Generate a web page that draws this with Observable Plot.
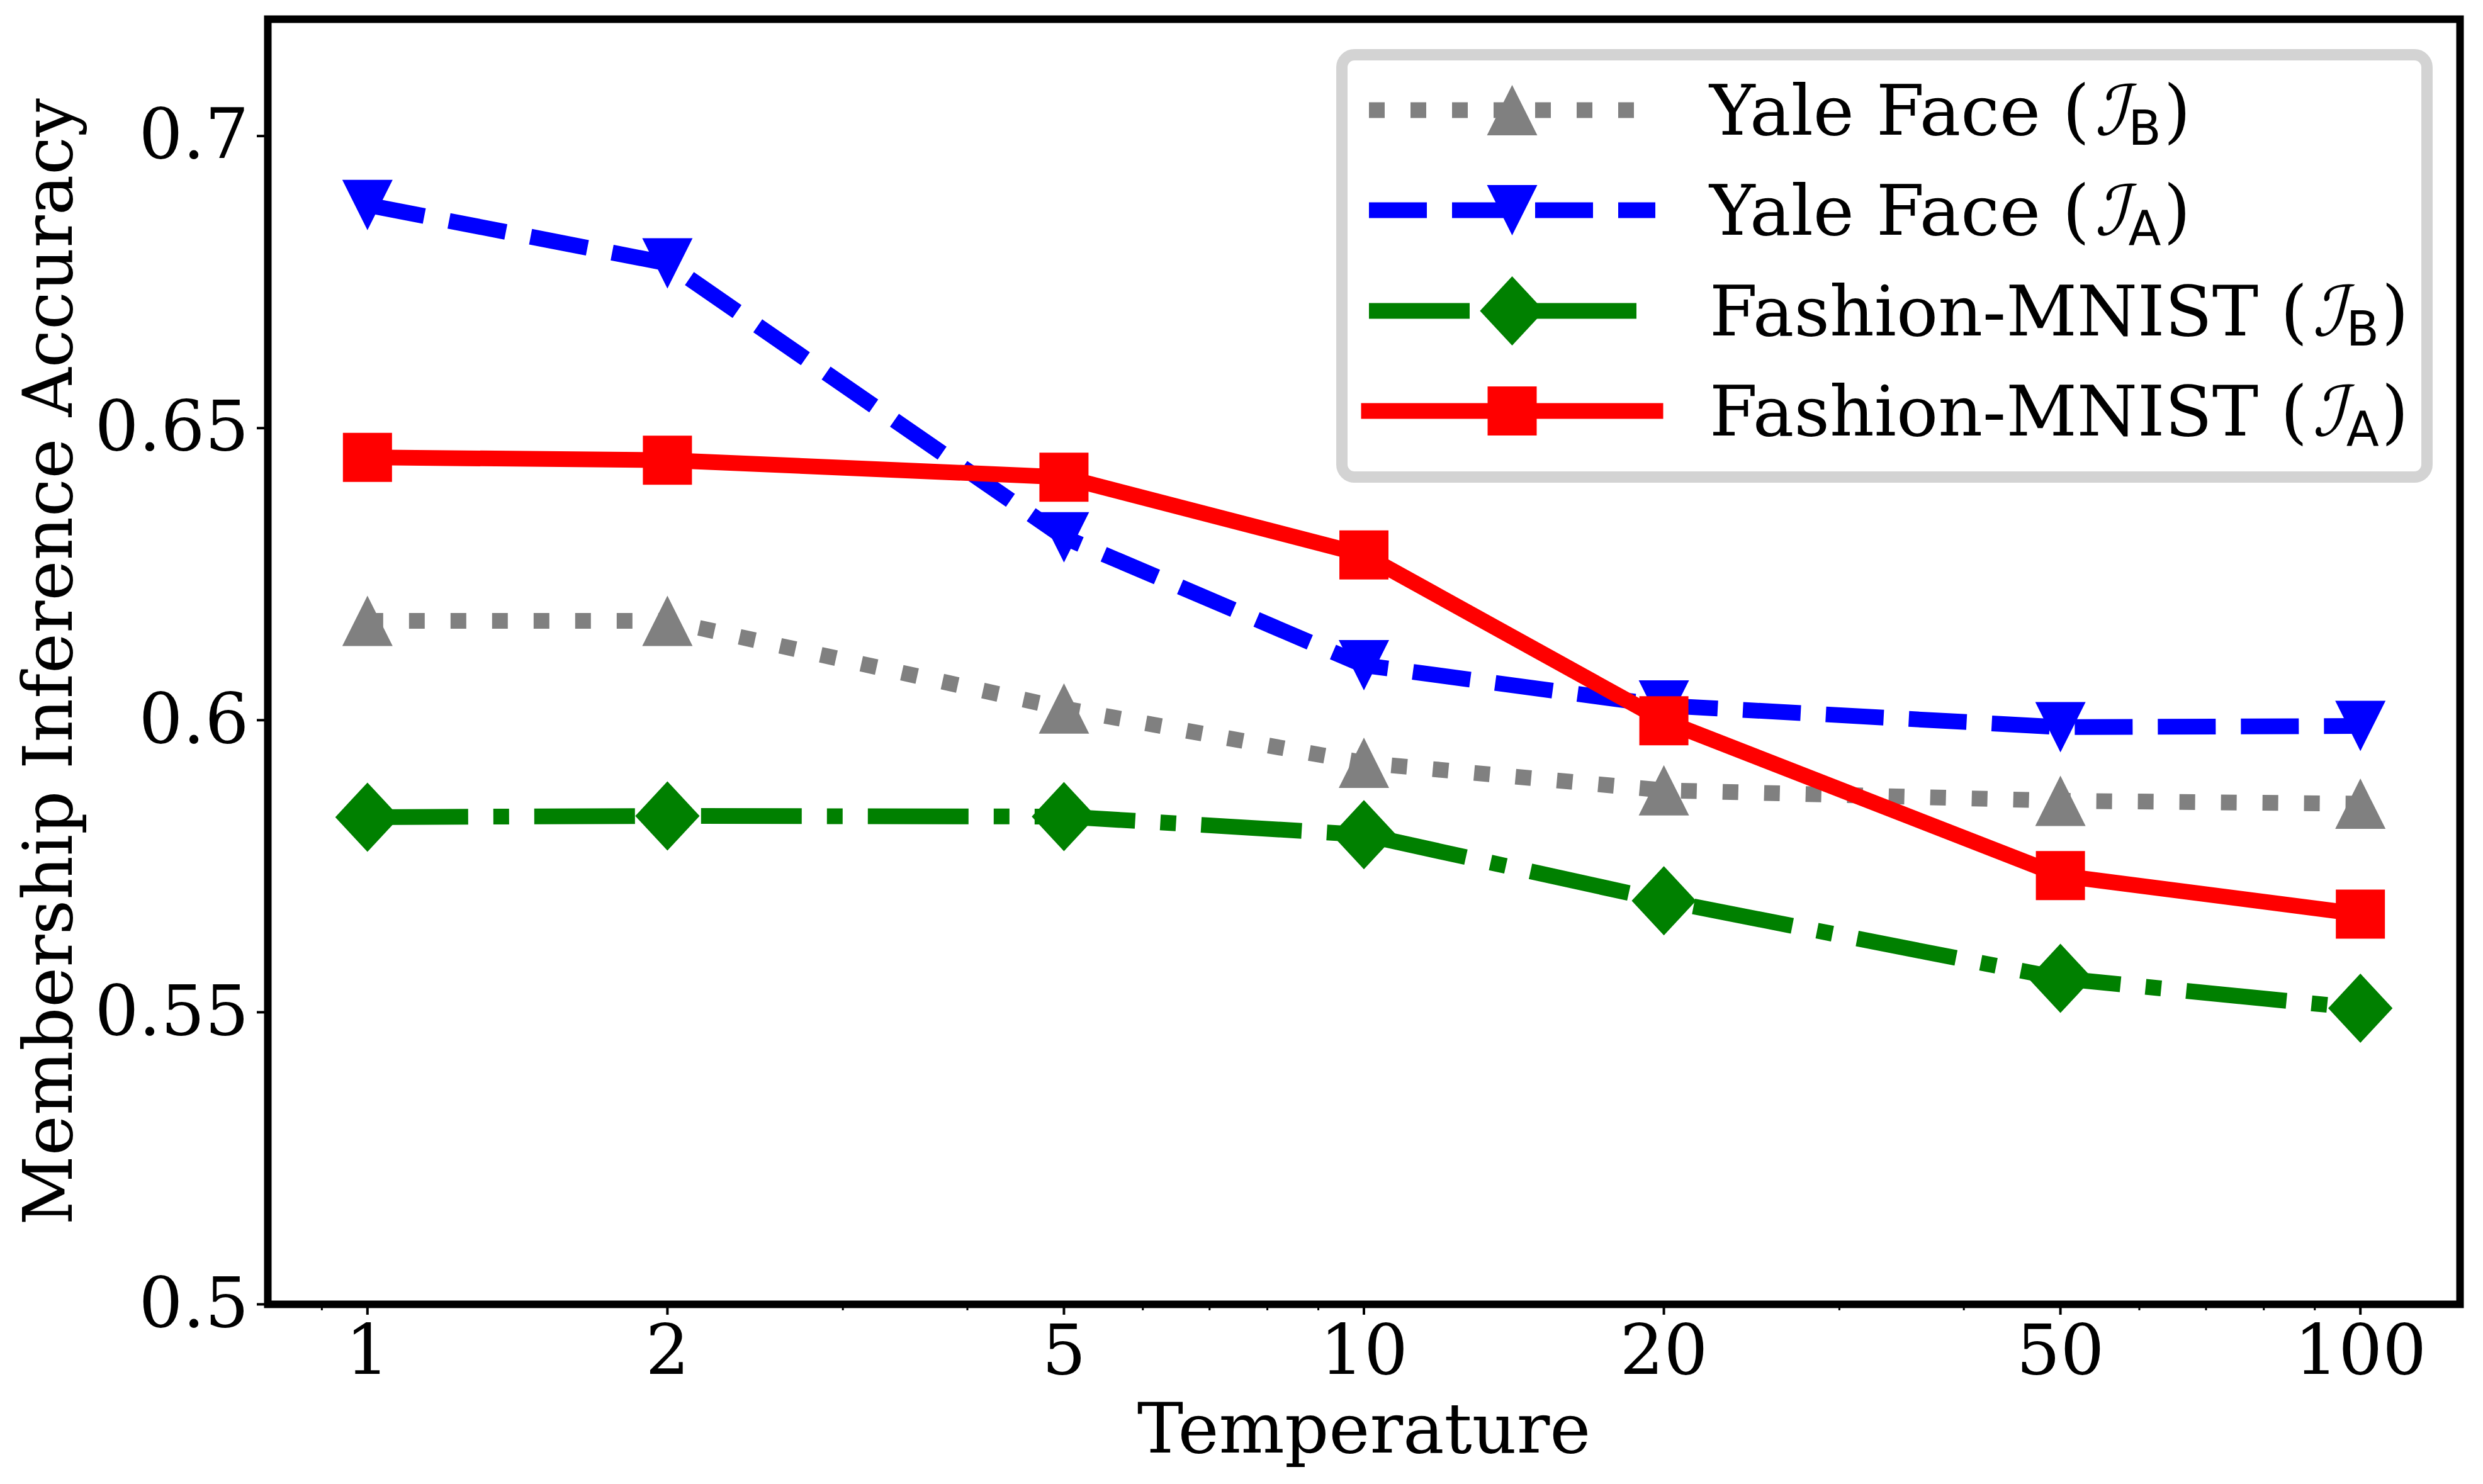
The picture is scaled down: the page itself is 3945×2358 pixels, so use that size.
<!DOCTYPE html>
<html><head><meta charset="utf-8">
<script src="https://cdn.jsdelivr.net/npm/d3@7"></script>
<script src="https://cdn.jsdelivr.net/npm/@observablehq/plot@0.6"></script>
<style>
html,body{margin:0;padding:0;background:#fff;}
#wrap{position:relative;width:3945px;height:2358px;}
#legend{position:absolute;left:0;top:0;pointer-events:none;}
</style></head><body><div id="wrap"></div>
<script>
// ---- data ----
const temperatures = [1, 2, 5, 10, 20, 50, 100];
const yaleB    = [0.6170, 0.6170, 0.6020, 0.5927, 0.5880, 0.5862, 0.5857];
const yaleA    = [0.6882, 0.6782, 0.6313, 0.6094, 0.6025, 0.5988, 0.5990];
const fashionB = [0.5834, 0.5836, 0.5835, 0.5804, 0.5691, 0.5558, 0.5507];
const fashionA = [0.6450, 0.6445, 0.6416, 0.6283, 0.5999, 0.5734, 0.5668];

const xTicks = [1, 2, 5, 10, 20, 50, 100];
const xTickLabels = ["1", "2", "5", "10", "20", "50", "100"];
const xMinorTicks = [0.9, 3, 4, 6, 7, 8, 9, 30, 40, 60, 70, 80, 90];
const yTicks = [0.5, 0.55, 0.6, 0.65, 0.7];
const yTickLabels = ["0.5", "0.55", "0.6", "0.65", "0.7"];

const seriesLabels = ["Yale Face", "Yale Face", "Fashion-MNIST", "Fashion-MNIST"];
const seriesSubs = ["B", "A", "B", "A"];
const seriesValues = [yaleB, yaleA, fashionB, fashionA];

const xLabel = "Temperature";
const yLabel = "Membership Inference Accuracy";

// ---- styles ----
const W = 3945, H = 2358, mL = 425, mR = 37, mT = 30, mB = 286;
const FONT = "DejaVu Serif";
const FS = 110;
function sym(f) { return {draw(ctx, size) { const r = Math.sqrt(size / Math.PI); f(ctx, r); }}; }
const triUp = sym((c, r) => { c.moveTo(0, -r); c.lineTo(r, r); c.lineTo(-r, r); c.closePath(); });
const triDown = sym((c, r) => { c.moveTo(0, r); c.lineTo(r, -r); c.lineTo(-r, -r); c.closePath(); });
const diamond = sym((c, r) => { const w = r * 0.93; c.moveTo(0, -r); c.lineTo(w, 0); c.lineTo(0, r); c.lineTo(-w, 0); c.closePath(); });
const square = sym((c, r) => { c.rect(-r, -r, 2 * r, 2 * r); });
const styles = [
  {color: "gray",  symbol: triUp,   r: 40, dash: "25,41",          cap: "butt"},
  {color: "blue",  symbol: triDown, r: 40, dash: "92,40",          cap: "butt"},
  {color: "green", symbol: diamond, r: 55, dash: "160,40,25,40",   cap: "butt"},
  {color: "red",   symbol: square,  r: 39, dash: null,             cap: "square"}
];
const LW = 25;

const marks = [];
seriesValues.forEach((vals, k) => {
  const rows = temperatures.map((t, i) => ({t, v: vals[i]}));
  const s = styles[k];
  const lineOpts = {x: "t", y: "v", stroke: s.color, strokeWidth: LW, strokeLinecap: s.cap, strokeLinejoin: "round"};
  if (s.dash) lineOpts.strokeDasharray = s.dash;
  marks.push(Plot.line(rows, lineOpts));
  marks.push(Plot.dot(rows, {x: "t", y: "v", symbol: s.symbol, r: s.r, fill: s.color, stroke: "none"}));
});

marks.push(Plot.axisX(xMinorTicks, {tickSize: 10, strokeWidth: 3, tickFormat: () => "", label: null}));
marks.push(Plot.axisX(xTicks, {tickSize: 17, tickPadding: 15, strokeWidth: 4, fontSize: FS,
  tickFormat: d => xTickLabels[xTicks.indexOf(d)], label: null}));
marks.push(Plot.axisY(yTicks, {tickSize: 17, tickPadding: 13, strokeWidth: 4, fontSize: FS,
  tickFormat: d => yTickLabels[yTicks.indexOf(d)], label: null}));
marks.push(Plot.frame({stroke: "black", strokeWidth: 12}));
marks.push(Plot.text([xLabel], {frameAnchor: "bottom", dy: 200, fontSize: FS, text: d => d, lineAnchor: "middle", textAnchor: "middle"}));
marks.push(Plot.text([yLabel], {frameAnchor: "left", rotate: -90, dx: -346, fontSize: 108, text: d => d, lineAnchor: "middle", textAnchor: "middle"}));

const chart = Plot.plot({
  width: W, height: H,
  marginLeft: mL, marginRight: mR, marginTop: mT, marginBottom: mB,
  style: {fontFamily: FONT, fontSize: FS + "px", background: "white", color: "black"},
  x: {type: "log", domain: [Math.pow(10, -0.1), Math.pow(10, 2.1)]},
  y: {domain: [0.5, 0.72]},
  marks
});
const wrap = document.getElementById("wrap");
wrap.appendChild(chart);

// ---- legend overlay ----
const leg = d3.select(wrap).append("svg").attr("id", "legend")
  .attr("width", W).attr("height", H).attr("viewBox", `0 0 ${W} ${H}`);
leg.append("rect").attr("x", 2132).attr("y", 87).attr("width", 1724).attr("height", 671)
  .attr("rx", 20).attr("fill", "white").attr("stroke", "#d3d3d3").attr("stroke-width", 18);
const rowY = [175, 334, 494, 653];
const hx0 = 2175, hx1 = 2630, hm = 2402.5, tx = 2716;
seriesLabels.forEach((lab, k) => {
  const s = styles[k];
  const y = rowY[k];
  const ln = leg.append("line").attr("x1", hx0).attr("x2", hx1).attr("y1", y).attr("y2", y)
    .attr("stroke", s.color).attr("stroke-width", LW).attr("stroke-linecap", s.cap);
  if (s.dash) ln.attr("stroke-dasharray", s.dash);
  const p = d3.path(); s.symbol.draw(p, s.r * s.r * Math.PI);
  leg.append("path").attr("d", p.toString()).attr("transform", `translate(${hm},${y})`).attr("fill", s.color);
  const by = y + 39;
  const g = leg.append("g").attr("fill", "black");
  const t1 = g.append("text").attr("x", tx).attr("y", by)
    .attr("font-family", FONT).attr("font-size", FS).text(lab + " (");
  let cx = tx + t1.node().getComputedTextLength() + 8;
  const t2 = g.append("text").attr("transform", `translate(${cx},${by}) skewX(-14)`)
    .attr("font-family", "DejaVu Sans").attr("font-size", FS).text("ℐ");
  cx += t2.node().getComputedTextLength() + 2;
  const t3 = g.append("text").attr("x", cx).attr("y", by + 16)
    .attr("font-family", "DejaVu Sans").attr("font-size", 76).text(seriesSubs[k]);
  cx += t3.node().getComputedTextLength() + 4;
  g.append("text").attr("x", cx).attr("y", by)
    .attr("font-family", FONT).attr("font-size", FS).text(")");
});
</script></body></html>
